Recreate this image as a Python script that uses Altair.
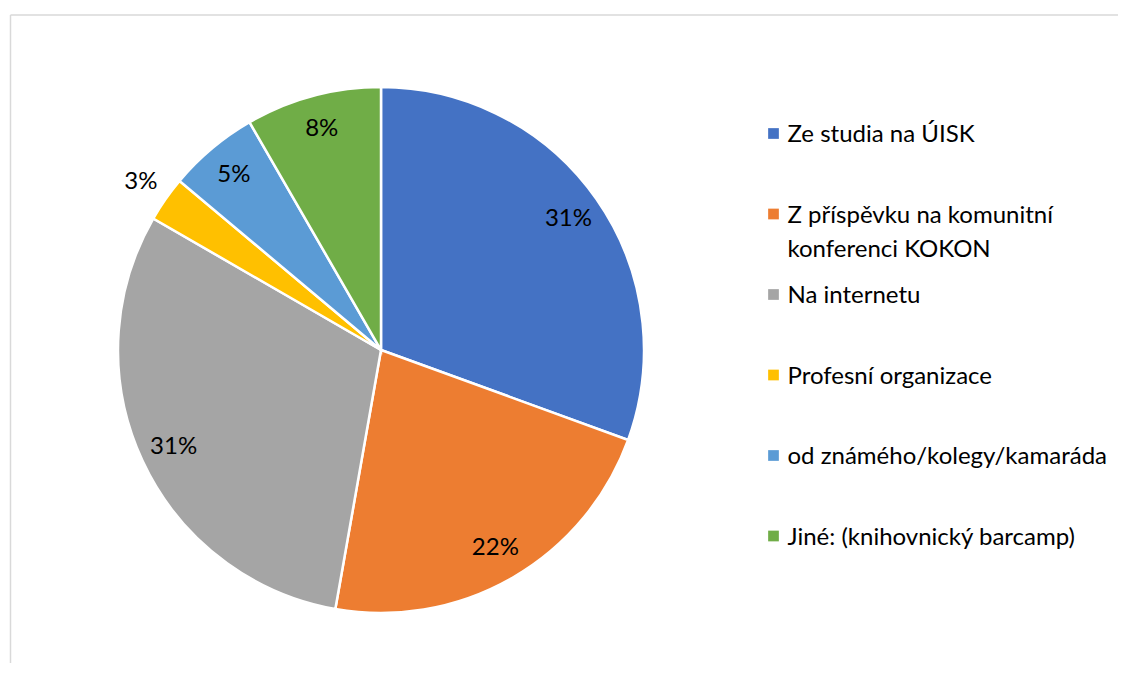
import altair as alt
import pandas as pd
import math

# ---- data ----
categories = [
    "Ze studia na ÚISK",
    "Z příspěvku na komunitní konferenci KOKON",
    "Na internetu",
    "Profesní organizace",
    "od známého/kolegy/kamaráda",
    "Jiné: (knihovnický barcamp)",
]
legend_labels = [
    ["Ze studia na ÚISK"],
    ["Z příspěvku na komunitní", "konferenci KOKON"],
    ["Na internetu"],
    ["Profesní organizace"],
    ["od známého/kolegy/kamaráda"],
    ["Jiné: (knihovnický barcamp)"],
]
counts = [11, 8, 11, 1, 2, 3]
pct_labels = ["31%", "22%", "31%", "3%", "5%", "8%"]
colors = ["#4472C4", "#ED7D31", "#A5A5A5", "#FFC000", "#5B9BD5", "#70AD47"]

total = sum(counts)
df = pd.DataFrame({
    "cat": categories,
    "count": counts,
    "pct": pct_labels,
    "idx": list(range(len(categories))),
})
df["end"] = df["count"].cumsum()
df["start"] = df["end"] - df["count"]
df["mid"] = (df["start"] + df["end"]) / 2
df["share"] = df["count"] / total
df["legend"] = ["\n".join(l) for l in legend_labels]

W, H = 1110, 655
CX, CY, R = 373, 342, 263
FONT = "Lato"
FS = 24

# label radius: inside for normal slices, outside for tiny ones
df["lr"] = [R * 0.87 if s >= 0.04 else R * 1.115 for s in df["share"]]

color_scale = alt.Scale(domain=categories, range=colors)
theta_scale = alt.Scale(domain=[0, total], range=[0, 2 * math.pi])

base = alt.Chart(df)

pie = base.mark_arc(radius=R, stroke="white", strokeWidth=2.5).encode(
    theta=alt.Theta("start:Q", scale=theta_scale, stack=False),
    theta2="end:Q",
    color=alt.Color("cat:N", scale=color_scale, legend=None),
    x=alt.value(CX),
    y=alt.value(CY),
)

pct_text = base.mark_text(font=FONT, fontSize=FS, color="#000000",
                          baseline="middle", align="center").encode(
    theta=alt.Theta("mid:Q", scale=theta_scale, stack=False),
    radius=alt.Radius("lr:Q", scale=None),
    text="pct:N",
    x=alt.value(CX),
    y=alt.value(CY),
)

# custom legend (placed through a point scale)
leg_y = alt.Y("cat:N", sort=categories, axis=None,
              scale=alt.Scale(type="point", range=[125.5, 528], padding=0))

leg_sym = base.mark_square(size=115, opacity=1).encode(
    x=alt.value(765.5),
    y=leg_y,
    color=alt.Color("cat:N", scale=color_scale, legend=None),
)

leg_txt = base.mark_text(font=FONT, fontSize=FS, color="#000000", align="left",
                         baseline="alphabetic", dy=8.5, lineBreak="\n",
                         lineHeight=34).encode(
    x=alt.value(779.5),
    y=leg_y,
    text="legend:N",
)

frame_top = alt.Chart(pd.DataFrame({"k": [0]})).mark_rule(
    color="#d9d9d9", strokeWidth=1.5).encode(
    x=alt.value(2.5), x2=alt.value(W + 20), y=alt.value(7))
frame_left = alt.Chart(pd.DataFrame({"k": [0]})).mark_rule(
    color="#d9d9d9", strokeWidth=1.5).encode(
    x=alt.value(2.5), y=alt.value(7), y2=alt.value(H + 20))

chart = alt.layer(frame_top, frame_left, pie, pct_text, leg_sym, leg_txt).properties(
    width=W, height=H, padding=0, autosize=alt.AutoSizeParams(type="none"),
    background="white",
).configure_view(stroke=None)

chart.save("out.html", embed_options={"renderer": "svg", "actions": False})
